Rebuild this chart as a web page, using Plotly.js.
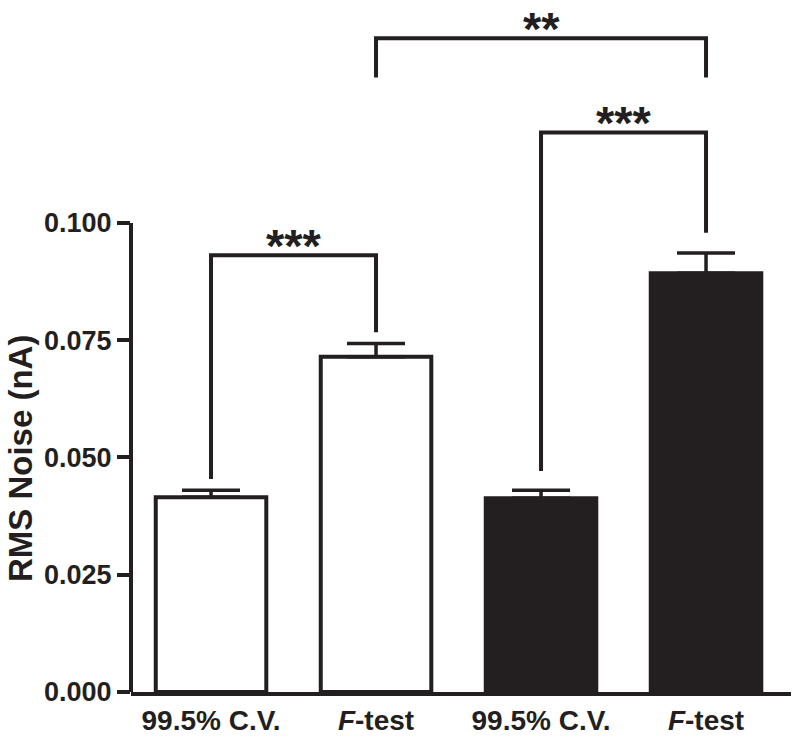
<!DOCTYPE html>
<html>
<head>
<meta charset="utf-8">
<script src="https://cdn.plot.ly/plotly-3.0.1.min.js"></script>
<style>html,body{margin:0;padding:0;background:#fff;}#chart{width:800px;height:742px;}</style>
</head>
<body>
<div id="chart"></div>
<script>
// ---- data ----
const positions = [0, 1, 2, 3];
const tickLabels = ['99.5% C.V.', '<i>F</i>-test', '99.5% C.V.', '<i>F</i>-test'];
const means = [0.0415, 0.0715, 0.0413, 0.0893];
const sems = [0.0015, 0.0028, 0.0017, 0.0043];
const fills = ['#ffffff', '#ffffff', '#231f20', '#231f20'];
const yTicks = [0, 0.025, 0.05, 0.075, 0.1];
const yLabel = 'RMS Noise (nA)';

// significance brackets
const bracketFrom = [0, 2, 1];
const bracketTo = [1, 3, 3];
const bracketY = [0.0931, 0.1193, 0.1394];
const legLeftBottom = [0.0454, 0.0471, 0.1310];
const legRightBottom = [0.0767, 0.0979, 0.1310];
const bracketStars = ['***', '***', '**'];

const ink = '#231f20';
const fontFam = 'Liberation Sans, Arial, Helvetica, sans-serif';

const trace = {
  type: 'bar',
  x: positions,
  y: means,
  width: 0.67,
  marker: {color: fills, line: {color: ink, width: 4}},
  error_y: {type: 'data', array: sems, arrayminus: sems.map(() => 0), symmetric: false,
            color: ink, thickness: 3.5, width: 29},
  hoverinfo: 'skip'
};

const shapes = [
  // y-axis spine from 0 to 0.1
  {type: 'line', xref: 'paper', yref: 'y', x0: 0, x1: 0, y0: 0, y1: yTicks[yTicks.length - 1],
   line: {color: ink, width: 4}}
];
const annotations = [
  {xref: 'paper', yref: 'paper', x: 0, y: 0.343, xshift: -111, textangle: -90,
   xanchor: 'center', yanchor: 'middle', showarrow: false,
   text: '<b>' + yLabel + '</b>', font: {family: fontFam, size: 33, color: ink}}
];
for (let i = 0; i < bracketFrom.length; i++) {
  const a = bracketFrom[i], b = bracketTo[i];
  shapes.push({
    type: 'path', xref: 'x', yref: 'y',
    path: `M ${a},${legLeftBottom[i]} L ${a},${bracketY[i]} L ${b},${bracketY[i]} L ${b},${legRightBottom[i]}`,
    line: {color: ink, width: 4}
  });
  annotations.push({
    xref: 'x', yref: 'y', x: (a + b) / 2, y: bracketY[i], yanchor: 'middle', yshift: 10,
    text: '<b>' + bracketStars[i] + '</b>', showarrow: false,
    font: {family: fontFam, size: 47, color: ink}
  });
}

const layout = {
  width: 800, height: 742,
  margin: {l: 131, r: 9, t: 10, b: 50},
  paper_bgcolor: '#fff', plot_bgcolor: '#fff',
  showlegend: false,
  font: {family: fontFam, color: ink},
  xaxis: {
    range: [-0.485, 3.515], tickvals: positions, ticktext: tickLabels,
    showline: true, linecolor: ink, linewidth: 4, ticks: '', showgrid: false, zeroline: false,
    tickfont: {family: fontFam, size: 28, color: ink, weight: 700}, fixedrange: true
  },
  yaxis: {
    range: [0, 0.1454], tickvals: yTicks, tickformat: '.3f',
    showline: false, ticks: 'outside', ticklen: 13, tickwidth: 4, tickcolor: ink,
    showgrid: false, zeroline: false,
    tickfont: {family: fontFam, size: 27, color: ink, weight: 700},
    fixedrange: true
  },
  shapes: shapes,
  annotations: annotations,
  bargap: 0.33
};

Plotly.newPlot('chart', [trace], layout, {displayModeBar: false, staticPlot: true});
</script>
</body>
</html>
